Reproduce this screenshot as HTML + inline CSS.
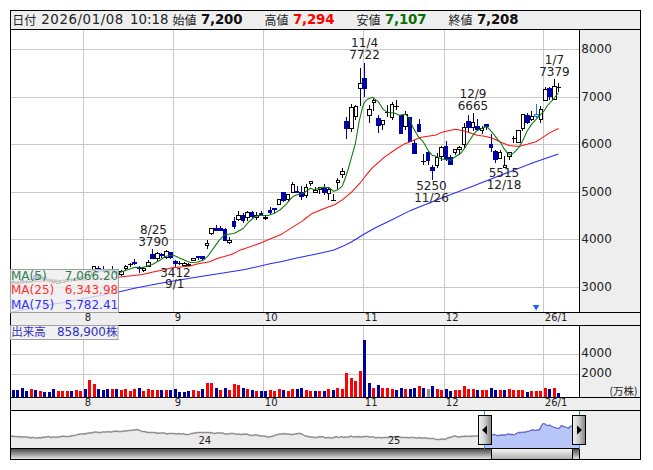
<!DOCTYPE html>
<html lang="ja"><head><meta charset="utf-8"><title>Chart</title>
<style>html,body{margin:0;padding:0;background:#fff;overflow:hidden}svg{display:block}text{font-family:'DejaVu Sans','Liberation Sans','Noto Sans CJK JP',sans-serif} .j{font-family:'Noto Sans CJK JP','DejaVu Sans','Liberation Sans',sans-serif}</style></head><body>
<svg width="653" height="470" viewBox="0 0 653 470">
<defs>
<linearGradient id="gTrack" x1="0" y1="0" x2="0" y2="1"><stop offset="0" stop-color="#4a4a4a"/><stop offset="1" stop-color="#e4e4e4"/></linearGradient>
<linearGradient id="gThumb" x1="0" y1="0" x2="0" y2="1"><stop offset="0" stop-color="#f4f4f4"/><stop offset="1" stop-color="#b0b0b0"/></linearGradient>
<linearGradient id="gHandle" x1="0" y1="0" x2="1" y2="0"><stop offset="0" stop-color="#f2f2f2"/><stop offset="0.45" stop-color="#d0d0d0"/><stop offset="1" stop-color="#808080"/></linearGradient>
</defs>
<rect x="0" y="0" width="653" height="470" fill="#fff"/>
<g shape-rendering="crispEdges">
<rect x="11" y="11" width="629" height="18" fill="#eeeeee"/>
<rect x="580" y="30" width="60" height="282" fill="#eeeeee"/>
<rect x="11" y="313" width="629" height="12" fill="#eeeeee"/>
<rect x="580" y="326" width="60" height="71" fill="#eeeeee"/>
<rect x="11" y="398" width="629" height="12" fill="#eeeeee"/>
<rect x="580" y="411" width="60" height="48" fill="#eeeeee"/>
<rect x="11" y="49" width="568" height="1" fill="#c8c8c8"/>
<rect x="11" y="97" width="568" height="1" fill="#c8c8c8"/>
<rect x="11" y="144" width="568" height="1" fill="#c8c8c8"/>
<rect x="11" y="192" width="568" height="1" fill="#c8c8c8"/>
<rect x="11" y="239" width="568" height="1" fill="#c8c8c8"/>
<rect x="11" y="287" width="568" height="1" fill="#c8c8c8"/>
<rect x="83" y="30" width="1" height="282" fill="#c8c8c8"/>
<rect x="83" y="326" width="1" height="71" fill="#c8c8c8"/>
<rect x="173" y="30" width="1" height="282" fill="#c8c8c8"/>
<rect x="173" y="326" width="1" height="71" fill="#c8c8c8"/>
<rect x="263" y="30" width="1" height="282" fill="#c8c8c8"/>
<rect x="263" y="326" width="1" height="71" fill="#c8c8c8"/>
<rect x="363" y="30" width="1" height="282" fill="#c8c8c8"/>
<rect x="363" y="326" width="1" height="71" fill="#c8c8c8"/>
<rect x="444" y="30" width="1" height="282" fill="#c8c8c8"/>
<rect x="444" y="326" width="1" height="71" fill="#c8c8c8"/>
<rect x="543" y="30" width="1" height="282" fill="#c8c8c8"/>
<rect x="543" y="326" width="1" height="71" fill="#c8c8c8"/>
<rect x="11" y="354" width="568" height="1" fill="#c8c8c8"/>
<rect x="11" y="374" width="568" height="1" fill="#c8c8c8"/>
</g>
<g shape-rendering="crispEdges">
<rect x="12" y="390" width="3" height="7" fill="#00009c"/>
<rect x="16" y="390" width="3" height="7" fill="#00009c"/>
<rect x="21" y="388" width="3" height="9" fill="#00009c"/>
<rect x="25" y="391" width="3" height="6" fill="#00009c"/>
<rect x="30" y="389" width="3" height="8" fill="#ff0000"/>
<rect x="34" y="390" width="3" height="7" fill="#00009c"/>
<rect x="39" y="391" width="3" height="6" fill="#ff0000"/>
<rect x="43" y="392" width="3" height="5" fill="#00009c"/>
<rect x="48" y="392" width="3" height="5" fill="#00009c"/>
<rect x="52" y="389" width="3" height="8" fill="#00009c"/>
<rect x="57" y="391" width="3" height="6" fill="#ff0000"/>
<rect x="61" y="391" width="3" height="6" fill="#ff0000"/>
<rect x="66" y="391" width="3" height="6" fill="#ff0000"/>
<rect x="70" y="391" width="3" height="6" fill="#00009c"/>
<rect x="75" y="390" width="3" height="7" fill="#ff0000"/>
<rect x="79" y="391" width="3" height="6" fill="#ff0000"/>
<rect x="84" y="389" width="3" height="8" fill="#00009c"/>
<rect x="88" y="380" width="3" height="17" fill="#ff0000"/>
<rect x="93" y="384" width="3" height="13" fill="#ff0000"/>
<rect x="97" y="389" width="3" height="8" fill="#00009c"/>
<rect x="102" y="390" width="3" height="7" fill="#00009c"/>
<rect x="106" y="389" width="3" height="8" fill="#00009c"/>
<rect x="111" y="389" width="3" height="8" fill="#ff0000"/>
<rect x="115" y="389" width="3" height="8" fill="#00009c"/>
<rect x="120" y="390" width="3" height="7" fill="#ff0000"/>
<rect x="124" y="389" width="3" height="8" fill="#ff0000"/>
<rect x="129" y="391" width="3" height="6" fill="#ff0000"/>
<rect x="133" y="389" width="3" height="8" fill="#ff0000"/>
<rect x="138" y="388" width="3" height="9" fill="#00009c"/>
<rect x="142" y="391" width="3" height="6" fill="#ff0000"/>
<rect x="147" y="389" width="3" height="8" fill="#ff0000"/>
<rect x="151" y="390" width="3" height="7" fill="#ff0000"/>
<rect x="156" y="390" width="3" height="7" fill="#ff0000"/>
<rect x="160" y="390" width="3" height="7" fill="#00009c"/>
<rect x="165" y="390" width="3" height="7" fill="#ff0000"/>
<rect x="169" y="390" width="3" height="7" fill="#00009c"/>
<rect x="174" y="389" width="3" height="8" fill="#00009c"/>
<rect x="178" y="392" width="3" height="5" fill="#00009c"/>
<rect x="183" y="392" width="3" height="5" fill="#00009c"/>
<rect x="187" y="391" width="3" height="6" fill="#00009c"/>
<rect x="192" y="390" width="3" height="7" fill="#ff0000"/>
<rect x="197" y="391" width="3" height="6" fill="#ff0000"/>
<rect x="201" y="389" width="3" height="8" fill="#00009c"/>
<rect x="206" y="383" width="3" height="14" fill="#ff0000"/>
<rect x="210" y="383" width="3" height="14" fill="#ff0000"/>
<rect x="215" y="388" width="3" height="9" fill="#00009c"/>
<rect x="219" y="390" width="3" height="7" fill="#ff0000"/>
<rect x="224" y="388" width="3" height="9" fill="#00009c"/>
<rect x="228" y="390" width="3" height="7" fill="#ff0000"/>
<rect x="233" y="384" width="3" height="13" fill="#ff0000"/>
<rect x="237" y="385" width="3" height="12" fill="#ff0000"/>
<rect x="242" y="388" width="3" height="9" fill="#00009c"/>
<rect x="246" y="389" width="3" height="8" fill="#ff0000"/>
<rect x="251" y="390" width="3" height="7" fill="#00009c"/>
<rect x="255" y="391" width="3" height="6" fill="#ff0000"/>
<rect x="260" y="391" width="3" height="6" fill="#00009c"/>
<rect x="264" y="391" width="3" height="6" fill="#00009c"/>
<rect x="269" y="390" width="3" height="7" fill="#ff0000"/>
<rect x="273" y="391" width="3" height="6" fill="#ff0000"/>
<rect x="278" y="389" width="3" height="8" fill="#ff0000"/>
<rect x="282" y="390" width="3" height="7" fill="#00009c"/>
<rect x="287" y="391" width="3" height="6" fill="#ff0000"/>
<rect x="291" y="389" width="3" height="8" fill="#ff0000"/>
<rect x="296" y="389" width="3" height="8" fill="#00009c"/>
<rect x="300" y="388" width="3" height="9" fill="#00009c"/>
<rect x="305" y="390" width="3" height="7" fill="#ff0000"/>
<rect x="309" y="391" width="3" height="6" fill="#ff0000"/>
<rect x="314" y="391" width="3" height="6" fill="#00009c"/>
<rect x="318" y="391" width="3" height="6" fill="#ff0000"/>
<rect x="323" y="391" width="3" height="6" fill="#00009c"/>
<rect x="327" y="389" width="3" height="8" fill="#ff0000"/>
<rect x="332" y="390" width="3" height="7" fill="#00009c"/>
<rect x="336" y="388" width="3" height="9" fill="#ff0000"/>
<rect x="341" y="389" width="3" height="8" fill="#ff0000"/>
<rect x="345" y="373" width="3" height="24" fill="#ff0000"/>
<rect x="350" y="378" width="3" height="19" fill="#ff0000"/>
<rect x="354" y="381" width="3" height="16" fill="#ff0000"/>
<rect x="359" y="371" width="3" height="26" fill="#ff0000"/>
<rect x="363" y="340" width="3" height="57" fill="#00009c"/>
<rect x="368" y="383" width="3" height="14" fill="#00009c"/>
<rect x="372" y="388" width="3" height="9" fill="#ff0000"/>
<rect x="377" y="385" width="3" height="12" fill="#00009c"/>
<rect x="381" y="388" width="3" height="9" fill="#ff0000"/>
<rect x="386" y="388" width="3" height="9" fill="#ff0000"/>
<rect x="391" y="389" width="3" height="8" fill="#ff0000"/>
<rect x="395" y="390" width="3" height="7" fill="#00009c"/>
<rect x="400" y="388" width="3" height="9" fill="#00009c"/>
<rect x="404" y="389" width="3" height="8" fill="#ff0000"/>
<rect x="409" y="389" width="3" height="8" fill="#00009c"/>
<rect x="413" y="388" width="3" height="9" fill="#00009c"/>
<rect x="418" y="386" width="3" height="11" fill="#ff0000"/>
<rect x="422" y="388" width="3" height="9" fill="#00009c"/>
<rect x="427" y="389" width="3" height="8" fill="#909090"/>
<rect x="431" y="386" width="3" height="11" fill="#00009c"/>
<rect x="436" y="389" width="3" height="8" fill="#ff0000"/>
<rect x="440" y="390" width="3" height="7" fill="#ff0000"/>
<rect x="445" y="389" width="3" height="8" fill="#00009c"/>
<rect x="449" y="391" width="3" height="6" fill="#00009c"/>
<rect x="454" y="390" width="3" height="7" fill="#ff0000"/>
<rect x="458" y="390" width="3" height="7" fill="#ff0000"/>
<rect x="463" y="386" width="3" height="11" fill="#ff0000"/>
<rect x="467" y="389" width="3" height="8" fill="#ff0000"/>
<rect x="472" y="389" width="3" height="8" fill="#ff0000"/>
<rect x="476" y="390" width="3" height="7" fill="#00009c"/>
<rect x="481" y="390" width="3" height="7" fill="#ff0000"/>
<rect x="485" y="390" width="3" height="7" fill="#ff0000"/>
<rect x="490" y="388" width="3" height="9" fill="#00009c"/>
<rect x="494" y="390" width="3" height="7" fill="#00009c"/>
<rect x="499" y="390" width="3" height="7" fill="#ff0000"/>
<rect x="503" y="390" width="3" height="7" fill="#00009c"/>
<rect x="508" y="389" width="3" height="8" fill="#ff0000"/>
<rect x="512" y="390" width="3" height="7" fill="#ff0000"/>
<rect x="517" y="390" width="3" height="7" fill="#ff0000"/>
<rect x="521" y="390" width="3" height="7" fill="#ff0000"/>
<rect x="526" y="392" width="3" height="5" fill="#00009c"/>
<rect x="530" y="391" width="3" height="6" fill="#ff0000"/>
<rect x="535" y="391" width="3" height="6" fill="#ff0000"/>
<rect x="539" y="391" width="3" height="6" fill="#ff0000"/>
<rect x="544" y="388" width="3" height="9" fill="#ff0000"/>
<rect x="548" y="389" width="3" height="8" fill="#00009c"/>
<rect x="553" y="388" width="3" height="9" fill="#ff0000"/>
<rect x="557" y="393" width="3" height="4" fill="#00009c"/>
</g>
<g shape-rendering="crispEdges">
<rect x="13" y="280" width="1" height="4" fill="#0000a8"/>
<rect x="11" y="281" width="4" height="2" fill="#0000a8"/>
<rect x="17" y="281" width="1" height="4" fill="#0000a8"/>
<rect x="15" y="282" width="5" height="2" fill="#0000a8"/>
<rect x="22" y="279" width="1" height="5" fill="#0000a8"/>
<rect x="20" y="280" width="4" height="3" fill="#0000a8"/>
<rect x="26" y="280" width="1" height="4" fill="#0000a8"/>
<rect x="24" y="281" width="5" height="2" fill="#0000a8"/>
<rect x="31" y="278" width="1" height="5" fill="#000"/>
<rect x="29" y="279" width="4" height="3" fill="#000"/>
<rect x="30" y="280" width="2" height="1" fill="#fff"/>
<rect x="35" y="274" width="1" height="7" fill="#0000a8"/>
<rect x="33" y="275" width="5" height="5" fill="#0000a8"/>
<rect x="40" y="274" width="1" height="6" fill="#000"/>
<rect x="38" y="275" width="4" height="4" fill="#000"/>
<rect x="39" y="276" width="2" height="2" fill="#fff"/>
<rect x="44" y="276" width="1" height="5" fill="#0000a8"/>
<rect x="42" y="277" width="5" height="3" fill="#0000a8"/>
<rect x="49" y="278" width="1" height="5" fill="#0000a8"/>
<rect x="47" y="279" width="4" height="2" fill="#0000a8"/>
<rect x="53" y="279" width="1" height="5" fill="#0000a8"/>
<rect x="51" y="280" width="5" height="3" fill="#0000a8"/>
<rect x="58" y="280" width="1" height="4" fill="#000"/>
<rect x="56" y="281" width="4" height="3" fill="#000"/>
<rect x="57" y="282" width="2" height="1" fill="#fff"/>
<rect x="62" y="279" width="1" height="4" fill="#000"/>
<rect x="60" y="280" width="5" height="3" fill="#000"/>
<rect x="61" y="281" width="3" height="1" fill="#fff"/>
<rect x="67" y="278" width="1" height="4" fill="#000"/>
<rect x="65" y="279" width="4" height="3" fill="#000"/>
<rect x="66" y="280" width="2" height="1" fill="#fff"/>
<rect x="71" y="278" width="1" height="4" fill="#0000a8"/>
<rect x="69" y="279" width="5" height="2" fill="#0000a8"/>
<rect x="76" y="277" width="1" height="4" fill="#000"/>
<rect x="74" y="278" width="4" height="3" fill="#000"/>
<rect x="75" y="279" width="2" height="1" fill="#fff"/>
<rect x="80" y="276" width="1" height="4" fill="#000"/>
<rect x="79" y="277" width="4" height="3" fill="#000"/>
<rect x="80" y="278" width="2" height="1" fill="#fff"/>
<rect x="85" y="276" width="1" height="5" fill="#0000a8"/>
<rect x="83" y="277" width="4" height="2" fill="#0000a8"/>
<rect x="89" y="270" width="1" height="7" fill="#000"/>
<rect x="88" y="271" width="4" height="5" fill="#000"/>
<rect x="89" y="272" width="2" height="3" fill="#fff"/>
<rect x="94" y="266" width="1" height="6" fill="#000"/>
<rect x="92" y="266" width="4" height="5" fill="#000"/>
<rect x="93" y="267" width="2" height="3" fill="#fff"/>
<rect x="98" y="266" width="1" height="5" fill="#0000a8"/>
<rect x="96" y="268" width="5" height="2" fill="#0000a8"/>
<rect x="103" y="266" width="1" height="6" fill="#0000a8"/>
<rect x="101" y="269" width="4" height="2" fill="#0000a8"/>
<rect x="107" y="269" width="1" height="4" fill="#0000a8"/>
<rect x="105" y="270" width="5" height="2" fill="#0000a8"/>
<rect x="112" y="266" width="1" height="6" fill="#0000a8"/>
<rect x="110" y="269" width="5" height="2" fill="#0000a8"/>
<rect x="116" y="270" width="1" height="5" fill="#0000a8"/>
<rect x="114" y="271" width="5" height="3" fill="#0000a8"/>
<rect x="121" y="270" width="1" height="6" fill="#000"/>
<rect x="119" y="271" width="5" height="4" fill="#000"/>
<rect x="120" y="272" width="3" height="2" fill="#fff"/>
<rect x="125" y="265" width="1" height="5" fill="#000"/>
<rect x="124" y="266" width="4" height="3" fill="#000"/>
<rect x="125" y="267" width="2" height="1" fill="#fff"/>
<rect x="130" y="263" width="1" height="4" fill="#000"/>
<rect x="128" y="264" width="5" height="1" fill="#000"/>
<rect x="134" y="259" width="1" height="6" fill="#0000a8"/>
<rect x="132" y="262" width="5" height="2" fill="#0000a8"/>
<rect x="139" y="266" width="1" height="7" fill="#0000a8"/>
<rect x="137" y="267" width="5" height="2" fill="#0000a8"/>
<rect x="143" y="267" width="1" height="5" fill="#000"/>
<rect x="142" y="268" width="4" height="3" fill="#000"/>
<rect x="143" y="269" width="2" height="1" fill="#fff"/>
<rect x="148" y="260" width="1" height="7" fill="#000"/>
<rect x="146" y="262" width="5" height="5" fill="#000"/>
<rect x="147" y="263" width="3" height="3" fill="#fff"/>
<rect x="152" y="249" width="1" height="10" fill="#0000a8"/>
<rect x="150" y="254" width="5" height="5" fill="#0000a8"/>
<rect x="157" y="252" width="1" height="9" fill="#000"/>
<rect x="155" y="253" width="5" height="6" fill="#000"/>
<rect x="156" y="254" width="3" height="4" fill="#fff"/>
<rect x="161" y="253" width="1" height="5" fill="#0000a8"/>
<rect x="159" y="254" width="5" height="2" fill="#0000a8"/>
<rect x="166" y="250" width="1" height="9" fill="#000"/>
<rect x="164" y="251" width="5" height="7" fill="#000"/>
<rect x="165" y="252" width="3" height="5" fill="#fff"/>
<rect x="170" y="252" width="1" height="7" fill="#0000a8"/>
<rect x="168" y="252" width="5" height="6" fill="#0000a8"/>
<rect x="175" y="260" width="1" height="7" fill="#0000a8"/>
<rect x="173" y="261" width="5" height="3" fill="#0000a8"/>
<rect x="179" y="261" width="1" height="4" fill="#000"/>
<rect x="178" y="263" width="4" height="1" fill="#000"/>
<rect x="184" y="262" width="1" height="3" fill="#000"/>
<rect x="182" y="263" width="5" height="3" fill="#000"/>
<rect x="183" y="264" width="3" height="1" fill="#fff"/>
<rect x="188" y="263" width="1" height="3" fill="#000"/>
<rect x="187" y="264" width="4" height="2" fill="#000"/>
<rect x="193" y="258" width="1" height="2" fill="#000"/>
<rect x="191" y="258" width="5" height="3" fill="#000"/>
<rect x="192" y="259" width="3" height="1" fill="#fff"/>
<rect x="198" y="256" width="1" height="4" fill="#0000a8"/>
<rect x="196" y="256" width="4" height="2" fill="#0000a8"/>
<rect x="202" y="256" width="1" height="5" fill="#0000a8"/>
<rect x="200" y="256" width="5" height="3" fill="#0000a8"/>
<rect x="207" y="240" width="1" height="9" fill="#000"/>
<rect x="205" y="243" width="4" height="3" fill="#000"/>
<rect x="206" y="244" width="2" height="1" fill="#fff"/>
<rect x="211" y="228" width="1" height="7" fill="#000"/>
<rect x="209" y="228" width="5" height="6" fill="#000"/>
<rect x="210" y="229" width="3" height="4" fill="#fff"/>
<rect x="216" y="225" width="1" height="6" fill="#0000a8"/>
<rect x="214" y="228" width="4" height="3" fill="#0000a8"/>
<rect x="220" y="226" width="1" height="5" fill="#0000a8"/>
<rect x="218" y="228" width="5" height="3" fill="#0000a8"/>
<rect x="225" y="228" width="1" height="13" fill="#0000a8"/>
<rect x="223" y="229" width="4" height="12" fill="#0000a8"/>
<rect x="229" y="237" width="1" height="7" fill="#000"/>
<rect x="227" y="240" width="5" height="3" fill="#000"/>
<rect x="228" y="241" width="3" height="1" fill="#fff"/>
<rect x="234" y="217" width="1" height="12" fill="#0000a8"/>
<rect x="232" y="221" width="4" height="6" fill="#0000a8"/>
<rect x="238" y="211" width="1" height="10" fill="#000"/>
<rect x="236" y="215" width="5" height="5" fill="#000"/>
<rect x="237" y="216" width="3" height="3" fill="#fff"/>
<rect x="243" y="213" width="1" height="10" fill="#0000a8"/>
<rect x="241" y="215" width="4" height="6" fill="#0000a8"/>
<rect x="247" y="211" width="1" height="10" fill="#000"/>
<rect x="245" y="212" width="5" height="6" fill="#000"/>
<rect x="246" y="213" width="3" height="4" fill="#fff"/>
<rect x="252" y="211" width="1" height="7" fill="#0000a8"/>
<rect x="250" y="212" width="4" height="5" fill="#0000a8"/>
<rect x="256" y="212" width="1" height="8" fill="#000"/>
<rect x="254" y="215" width="5" height="3" fill="#000"/>
<rect x="255" y="216" width="3" height="1" fill="#fff"/>
<rect x="261" y="211" width="1" height="5" fill="#0000a8"/>
<rect x="259" y="213" width="4" height="3" fill="#0000a8"/>
<rect x="265" y="216" width="1" height="4" fill="#000"/>
<rect x="263" y="217" width="5" height="2" fill="#000"/>
<rect x="270" y="207" width="1" height="8" fill="#0000a8"/>
<rect x="268" y="210" width="4" height="3" fill="#0000a8"/>
<rect x="274" y="208" width="1" height="5" fill="#0000a8"/>
<rect x="272" y="208" width="5" height="2" fill="#0000a8"/>
<rect x="279" y="199" width="1" height="6" fill="#000"/>
<rect x="277" y="199" width="4" height="6" fill="#000"/>
<rect x="278" y="200" width="2" height="4" fill="#fff"/>
<rect x="283" y="192" width="1" height="10" fill="#0000a8"/>
<rect x="281" y="192" width="5" height="9" fill="#0000a8"/>
<rect x="288" y="194" width="1" height="8" fill="#000"/>
<rect x="286" y="194" width="4" height="6" fill="#000"/>
<rect x="287" y="195" width="2" height="4" fill="#fff"/>
<rect x="292" y="182" width="1" height="11" fill="#000"/>
<rect x="291" y="184" width="4" height="9" fill="#000"/>
<rect x="292" y="185" width="2" height="7" fill="#fff"/>
<rect x="297" y="186" width="1" height="7" fill="#0000a8"/>
<rect x="295" y="191" width="4" height="2" fill="#0000a8"/>
<rect x="301" y="186" width="1" height="14" fill="#0000a8"/>
<rect x="299" y="192" width="5" height="5" fill="#0000a8"/>
<rect x="306" y="184" width="1" height="14" fill="#000"/>
<rect x="304" y="187" width="4" height="9" fill="#000"/>
<rect x="305" y="188" width="2" height="7" fill="#fff"/>
<rect x="310" y="181" width="1" height="5" fill="#000"/>
<rect x="309" y="181" width="4" height="3" fill="#000"/>
<rect x="310" y="182" width="2" height="1" fill="#fff"/>
<rect x="315" y="187" width="1" height="5" fill="#000"/>
<rect x="313" y="190" width="5" height="3" fill="#000"/>
<rect x="314" y="191" width="3" height="1" fill="#fff"/>
<rect x="319" y="187" width="1" height="7" fill="#000"/>
<rect x="318" y="187" width="4" height="3" fill="#000"/>
<rect x="319" y="188" width="2" height="1" fill="#fff"/>
<rect x="324" y="184" width="1" height="11" fill="#0000a8"/>
<rect x="322" y="188" width="5" height="5" fill="#0000a8"/>
<rect x="328" y="187" width="1" height="13" fill="#000"/>
<rect x="327" y="189" width="4" height="5" fill="#000"/>
<rect x="328" y="190" width="2" height="3" fill="#fff"/>
<rect x="333" y="194" width="1" height="7" fill="#000"/>
<rect x="331" y="200" width="5" height="1" fill="#000"/>
<rect x="337" y="178" width="1" height="11" fill="#000"/>
<rect x="336" y="180" width="4" height="3" fill="#000"/>
<rect x="337" y="181" width="2" height="1" fill="#fff"/>
<rect x="342" y="168" width="1" height="10" fill="#000"/>
<rect x="340" y="171" width="5" height="4" fill="#000"/>
<rect x="341" y="172" width="3" height="2" fill="#fff"/>
<rect x="346" y="117" width="1" height="22" fill="#0000a8"/>
<rect x="344" y="121" width="5" height="8" fill="#0000a8"/>
<rect x="351" y="104" width="1" height="28" fill="#000"/>
<rect x="349" y="107" width="5" height="22" fill="#000"/>
<rect x="350" y="108" width="3" height="20" fill="#fff"/>
<rect x="355" y="105" width="1" height="15" fill="#000"/>
<rect x="354" y="106" width="4" height="11" fill="#000"/>
<rect x="355" y="107" width="2" height="9" fill="#fff"/>
<rect x="360" y="68" width="1" height="38" fill="#000"/>
<rect x="358" y="83" width="5" height="6" fill="#000"/>
<rect x="359" y="84" width="3" height="4" fill="#fff"/>
<rect x="364" y="63" width="1" height="34" fill="#0000a8"/>
<rect x="362" y="78" width="5" height="11" fill="#0000a8"/>
<rect x="369" y="105" width="1" height="18" fill="#000"/>
<rect x="367" y="109" width="5" height="7" fill="#000"/>
<rect x="368" y="110" width="3" height="5" fill="#fff"/>
<rect x="373" y="98" width="1" height="13" fill="#000"/>
<rect x="372" y="100" width="4" height="3" fill="#000"/>
<rect x="373" y="101" width="2" height="1" fill="#fff"/>
<rect x="378" y="115" width="1" height="18" fill="#0000a8"/>
<rect x="376" y="118" width="5" height="8" fill="#0000a8"/>
<rect x="382" y="120" width="1" height="10" fill="#000"/>
<rect x="381" y="120" width="4" height="5" fill="#000"/>
<rect x="382" y="121" width="2" height="3" fill="#fff"/>
<rect x="387" y="105" width="1" height="12" fill="#000"/>
<rect x="385" y="112" width="5" height="1" fill="#000"/>
<rect x="392" y="102" width="1" height="18" fill="#000"/>
<rect x="390" y="104" width="4" height="14" fill="#000"/>
<rect x="391" y="105" width="2" height="12" fill="#fff"/>
<rect x="396" y="100" width="1" height="10" fill="#000"/>
<rect x="394" y="106" width="5" height="1" fill="#000"/>
<rect x="401" y="115" width="1" height="19" fill="#0000a8"/>
<rect x="399" y="115" width="4" height="19" fill="#0000a8"/>
<rect x="405" y="111" width="1" height="19" fill="#000"/>
<rect x="403" y="114" width="5" height="13" fill="#000"/>
<rect x="404" y="115" width="3" height="11" fill="#fff"/>
<rect x="410" y="117" width="1" height="25" fill="#0000a8"/>
<rect x="408" y="117" width="4" height="25" fill="#0000a8"/>
<rect x="414" y="140" width="1" height="14" fill="#0000a8"/>
<rect x="412" y="143" width="5" height="11" fill="#0000a8"/>
<rect x="419" y="119" width="1" height="13" fill="#0000a8"/>
<rect x="417" y="124" width="4" height="8" fill="#0000a8"/>
<rect x="423" y="154" width="1" height="11" fill="#000"/>
<rect x="421" y="161" width="5" height="1" fill="#000"/>
<rect x="428" y="151" width="1" height="14" fill="#0000a8"/>
<rect x="426" y="152" width="4" height="9" fill="#0000a8"/>
<rect x="432" y="165" width="1" height="15" fill="#0000a8"/>
<rect x="430" y="167" width="5" height="4" fill="#0000a8"/>
<rect x="437" y="153" width="1" height="15" fill="#000"/>
<rect x="435" y="157" width="4" height="9" fill="#000"/>
<rect x="436" y="158" width="2" height="7" fill="#fff"/>
<rect x="441" y="146" width="1" height="15" fill="#000"/>
<rect x="439" y="147" width="5" height="10" fill="#000"/>
<rect x="440" y="148" width="3" height="8" fill="#fff"/>
<rect x="446" y="141" width="1" height="20" fill="#0000a8"/>
<rect x="444" y="146" width="4" height="14" fill="#0000a8"/>
<rect x="450" y="155" width="1" height="10" fill="#0000a8"/>
<rect x="448" y="157" width="5" height="8" fill="#0000a8"/>
<rect x="455" y="149" width="1" height="6" fill="#000"/>
<rect x="453" y="149" width="4" height="4" fill="#000"/>
<rect x="454" y="150" width="2" height="2" fill="#fff"/>
<rect x="459" y="146" width="1" height="9" fill="#000"/>
<rect x="457" y="147" width="5" height="3" fill="#000"/>
<rect x="458" y="148" width="3" height="1" fill="#fff"/>
<rect x="464" y="123" width="1" height="26" fill="#000"/>
<rect x="462" y="127" width="4" height="18" fill="#000"/>
<rect x="463" y="128" width="2" height="16" fill="#fff"/>
<rect x="468" y="115" width="1" height="18" fill="#0000a8"/>
<rect x="466" y="121" width="5" height="7" fill="#0000a8"/>
<rect x="473" y="113" width="1" height="18" fill="#000"/>
<rect x="471" y="122" width="4" height="6" fill="#000"/>
<rect x="472" y="123" width="2" height="4" fill="#fff"/>
<rect x="477" y="119" width="1" height="11" fill="#0000a8"/>
<rect x="475" y="126" width="5" height="4" fill="#0000a8"/>
<rect x="482" y="126" width="1" height="8" fill="#000"/>
<rect x="480" y="128" width="4" height="3" fill="#000"/>
<rect x="481" y="129" width="2" height="1" fill="#fff"/>
<rect x="486" y="124" width="1" height="6" fill="#0000a8"/>
<rect x="484" y="124" width="5" height="3" fill="#0000a8"/>
<rect x="491" y="134" width="1" height="18" fill="#0000a8"/>
<rect x="489" y="144" width="4" height="4" fill="#0000a8"/>
<rect x="495" y="150" width="1" height="13" fill="#0000a8"/>
<rect x="493" y="151" width="5" height="9" fill="#0000a8"/>
<rect x="500" y="150" width="1" height="9" fill="#000"/>
<rect x="498" y="152" width="4" height="7" fill="#000"/>
<rect x="499" y="153" width="2" height="5" fill="#fff"/>
<rect x="504" y="156" width="1" height="12" fill="#000"/>
<rect x="503" y="165" width="4" height="3" fill="#000"/>
<rect x="504" y="166" width="2" height="1" fill="#fff"/>
<rect x="509" y="152" width="1" height="8" fill="#000"/>
<rect x="507" y="152" width="5" height="5" fill="#000"/>
<rect x="508" y="153" width="3" height="3" fill="#fff"/>
<rect x="513" y="136" width="1" height="7" fill="#000"/>
<rect x="512" y="138" width="4" height="1" fill="#000"/>
<rect x="518" y="130" width="1" height="13" fill="#000"/>
<rect x="516" y="130" width="5" height="13" fill="#000"/>
<rect x="517" y="131" width="3" height="11" fill="#fff"/>
<rect x="522" y="114" width="1" height="17" fill="#000"/>
<rect x="521" y="114" width="4" height="15" fill="#000"/>
<rect x="522" y="115" width="2" height="13" fill="#fff"/>
<rect x="527" y="113" width="1" height="11" fill="#0000a8"/>
<rect x="525" y="115" width="5" height="8" fill="#0000a8"/>
<rect x="531" y="111" width="1" height="10" fill="#000"/>
<rect x="530" y="116" width="4" height="4" fill="#000"/>
<rect x="531" y="117" width="2" height="2" fill="#fff"/>
<rect x="536" y="104" width="1" height="14" fill="#1e78ff"/>
<rect x="534" y="114" width="5" height="3" fill="#1e78ff"/>
<rect x="535" y="115" width="3" height="1" fill="#fff"/>
<rect x="540" y="106" width="1" height="17" fill="#000"/>
<rect x="539" y="109" width="4" height="11" fill="#000"/>
<rect x="540" y="110" width="2" height="9" fill="#fff"/>
<rect x="545" y="87" width="1" height="14" fill="#000"/>
<rect x="543" y="89" width="5" height="12" fill="#000"/>
<rect x="544" y="90" width="3" height="10" fill="#fff"/>
<rect x="549" y="87" width="1" height="13" fill="#0000a8"/>
<rect x="547" y="88" width="5" height="9" fill="#0000a8"/>
<rect x="554" y="79" width="1" height="21" fill="#000"/>
<rect x="552" y="86" width="5" height="14" fill="#000"/>
<rect x="553" y="87" width="3" height="12" fill="#fff"/>
<rect x="558" y="83" width="1" height="9" fill="#000"/>
<rect x="557" y="87" width="4" height="1" fill="#000"/>
</g>
<polyline points="11.7,312.0 63.0,302.4 118.6,291.9 134.5,288.2 159.0,283.6 173.7,280.9 195.8,277.2 220.0,273.5 244.8,269.6 270.0,263.8 282.0,261.4 294.5,258.5 319.0,253.4 334.0,250.0 342.0,246.6 350.9,242.3 363.0,234.7 375.4,227.8 392.5,219.5 410.6,210.4 441.0,198.2 472.0,186.5 502.5,174.6 533.0,162.7 558.4,154.0" fill="none" stroke="#2828ff" stroke-width="1.05" stroke-linejoin="round"/>
<polyline points="11.0,284.0 40.0,281.3 70.0,280.5 90.0,279.5 118.0,277.2 142.6,274.4 153.0,272.0 161.8,270.2 172.0,267.8 190.4,266.0 196.0,264.3 209.6,261.7 217.2,258.5 222.5,257.1 232.0,254.3 239.0,250.6 260.0,243.3 282.0,233.9 303.0,220.6 306.0,218.0 312.0,213.6 324.4,208.6 335.0,204.5 342.3,199.9 351.5,192.1 360.0,183.2 365.3,176.2 372.0,168.2 384.4,157.1 396.8,148.5 404.2,144.1 409.0,142.3 413.0,140.4 418.4,138.2 421.4,137.2 436.0,135.0 440.0,133.1 445.0,131.6 455.5,129.3 464.3,131.1 473.5,133.9 477.2,135.3 484.5,136.2 492.0,138.0 498.0,140.8 501.0,142.2 509.0,145.5 519.0,146.4 528.0,144.1 536.0,141.8 541.0,138.6 549.0,133.1 558.5,128.5" fill="none" stroke="#ff1010" stroke-width="1.05" stroke-linejoin="round"/>
<polyline points="13.0,282.0 30.0,282.0 40.0,279.0 50.0,279.5 65.0,281.0 85.0,279.0 95.0,273.0 105.0,270.0 112.0,270.5 119.7,272.5 127.0,270.0 135.0,267.3 142.6,267.5 152.3,264.5 159.1,260.7 165.3,256.5 170.6,255.3 173.5,255.3 182.9,259.5 190.4,262.4 196.8,262.2 203.3,260.3 207.8,256.2 213.4,248.4 218.9,240.6 224.4,235.0 228.0,234.3 234.0,233.5 243.2,228.5 248.7,222.0 255.1,216.5 260.0,215.4 268.0,215.4 274.0,213.6 280.5,209.5 286.0,204.4 290.6,198.9 294.3,195.7 299.0,194.3 303.5,193.3 308.0,190.0 310.5,188.3 314.0,189.8 318.5,188.4 323.0,187.3 329.0,187.5 333.5,191.4 337.7,189.8 342.3,186.1 345.0,178.8 348.0,170.0 350.5,160.8 355.4,143.5 359.0,122.0 362.5,107.4 364.5,102.3 367.0,99.5 372.5,97.3 378.0,101.3 383.4,109.6 387.6,112.4 394.5,113.1 399.3,115.2 405.7,114.3 409.4,118.4 413.0,127.6 418.6,137.2 423.0,141.4 428.5,151.1 432.2,155.2 437.0,156.6 441.4,158.9 445.0,159.4 450.5,160.3 454.2,157.5 461.0,153.0 464.3,148.6 469.0,141.2 473.5,134.4 477.0,130.7 481.8,128.4 486.4,126.5 489.6,129.3 493.0,133.4 498.0,139.9 501.0,143.1 504.0,148.7 507.8,153.3 510.6,155.1 514.3,152.4 519.0,147.3 522.5,141.3 527.0,131.2 531.5,124.4 537.0,118.4 544.0,111.0 547.0,106.0 553.0,99.6 558.3,92.7" fill="none" stroke="#0a7a0a" stroke-width="1.05" stroke-linejoin="round"/>
<path d="M532.8 305 L539.3 305 L536.1 310.6 Z" fill="#1464ff"/>
<polygon points="11.0,448 11.0,436.5 12.5,436.0 14.0,436.5 15.5,436.5 17.0,436.5 18.5,437.0 20.0,436.5 21.5,437.0 23.0,437.0 24.5,437.0 26.0,437.0 27.5,437.0 29.0,437.5 30.5,438.0 32.0,437.5 33.5,437.5 35.0,438.0 36.5,438.0 38.0,438.0 39.5,437.5 41.0,438.0 42.5,437.0 44.0,437.5 45.5,437.0 47.0,437.0 48.5,436.5 50.0,437.0 51.5,437.5 53.0,437.0 54.5,437.0 56.0,437.5 57.5,437.0 59.0,437.0 60.5,436.5 62.0,436.5 63.5,436.0 65.0,436.5 66.5,436.5 68.0,436.5 69.5,436.5 71.0,436.0 72.5,435.5 74.0,435.5 75.5,435.5 77.0,434.5 78.5,434.5 80.0,434.0 81.5,434.0 83.0,434.0 84.5,433.5 86.0,434.0 87.5,433.0 89.0,433.0 90.5,433.0 92.0,432.5 93.5,432.5 95.0,432.0 96.5,432.0 98.0,432.5 99.5,432.5 101.0,432.5 102.5,432.0 104.0,432.0 105.5,432.0 107.0,432.0 108.5,431.5 110.0,432.0 111.5,432.0 113.0,431.5 114.5,431.5 116.0,431.0 117.5,431.5 119.0,431.5 120.5,431.5 122.0,431.5 123.5,431.0 125.0,431.0 126.5,431.0 128.0,430.5 129.5,430.5 131.0,430.5 132.5,430.0 134.0,430.0 135.5,430.0 137.0,429.5 138.5,430.0 140.0,430.5 141.5,431.5 143.0,431.5 144.5,431.5 146.0,432.0 147.5,432.5 149.0,432.5 150.5,432.5 152.0,432.5 153.5,432.5 155.0,432.5 156.5,433.0 158.0,433.5 159.5,433.0 161.0,433.0 162.5,433.0 164.0,433.0 165.5,433.5 167.0,434.0 168.5,433.5 170.0,433.5 171.5,433.5 173.0,433.5 174.5,433.5 176.0,434.0 177.5,434.0 179.0,433.5 180.5,434.0 182.0,434.0 183.5,433.5 185.0,434.5 186.5,434.5 188.0,434.5 189.5,434.5 191.0,433.5 192.5,433.5 194.0,433.0 195.5,433.0 197.0,432.5 198.5,432.5 200.0,432.5 201.5,432.5 203.0,432.5 204.5,432.5 206.0,432.5 207.5,432.5 209.0,432.5 210.5,433.0 212.0,432.5 213.5,433.5 215.0,433.5 216.5,433.0 218.0,433.0 219.5,433.0 221.0,433.0 222.5,433.0 224.0,433.5 225.5,434.0 227.0,434.0 228.5,434.0 230.0,433.5 231.5,433.5 233.0,433.5 234.5,433.5 236.0,434.5 237.5,434.0 239.0,434.0 240.5,434.5 242.0,434.5 243.5,434.0 245.0,434.5 246.5,434.0 248.0,434.5 249.5,435.0 251.0,435.5 252.5,435.5 254.0,435.0 255.5,435.0 257.0,435.0 258.5,435.5 260.0,436.0 261.5,436.0 263.0,436.0 264.5,436.0 266.0,436.5 267.5,437.0 269.0,437.0 270.5,436.5 272.0,436.5 273.5,436.0 275.0,435.0 276.5,435.0 278.0,434.5 279.5,434.0 281.0,434.0 282.5,434.0 284.0,433.5 285.5,434.0 287.0,434.0 288.5,434.0 290.0,434.5 291.5,434.5 293.0,434.5 294.5,434.0 296.0,434.0 297.5,433.5 299.0,433.5 300.5,433.5 302.0,434.0 303.5,435.0 305.0,436.0 306.5,436.0 308.0,436.5 309.5,437.0 311.0,437.0 312.5,437.0 314.0,437.5 315.5,437.5 317.0,437.5 318.5,437.0 320.0,436.5 321.5,437.0 323.0,436.5 324.5,437.5 326.0,438.0 327.5,437.5 329.0,437.5 330.5,438.0 332.0,438.0 333.5,437.5 335.0,437.0 336.5,436.5 338.0,437.5 339.5,437.5 341.0,436.5 342.5,437.0 344.0,437.5 345.5,437.0 347.0,437.0 348.5,437.0 350.0,436.5 351.5,436.0 353.0,437.0 354.5,437.0 356.0,436.5 357.5,437.0 359.0,436.5 360.5,437.0 362.0,437.0 363.5,436.5 365.0,436.5 366.5,436.5 368.0,436.5 369.5,437.0 371.0,437.0 372.5,437.0 374.0,437.0 375.5,438.0 377.0,437.5 378.5,437.5 380.0,437.5 381.5,438.0 383.0,437.5 384.5,437.5 386.0,437.5 387.5,437.5 389.0,437.5 390.5,436.5 392.0,437.0 393.5,437.0 395.0,436.5 396.5,437.5 398.0,437.0 399.5,437.0 401.0,437.5 402.5,437.5 404.0,437.5 405.5,437.5 407.0,437.5 408.5,438.0 410.0,437.5 411.5,437.5 413.0,437.5 414.5,437.5 416.0,438.0 417.5,438.0 419.0,437.5 420.5,438.0 422.0,438.0 423.5,438.0 425.0,438.0 426.5,438.0 428.0,438.5 429.5,438.5 431.0,438.5 432.5,438.5 434.0,438.5 435.5,439.5 437.0,439.5 438.5,439.5 440.0,439.5 441.5,439.0 443.0,439.0 444.5,439.5 446.0,439.0 447.5,438.0 449.0,437.5 450.5,437.5 452.0,437.0 453.5,436.0 455.0,436.0 456.5,436.5 458.0,437.0 459.5,437.0 461.0,436.5 462.5,436.5 464.0,436.5 465.5,436.0 467.0,436.5 468.5,436.5 470.0,436.0 471.5,436.5 473.0,436.0 474.5,436.0 476.0,436.0 477.5,436.0 479.0,435.5 480.5,435.5 482.0,435.5 483.5,435.5 485.0,435.0 485.0,435.6 485.0,448" fill="#ebebeb"/>
<polyline points="11.0,436.5 12.5,436.0 14.0,436.5 15.5,436.5 17.0,436.5 18.5,437.0 20.0,436.5 21.5,437.0 23.0,437.0 24.5,437.0 26.0,437.0 27.5,437.0 29.0,437.5 30.5,438.0 32.0,437.5 33.5,437.5 35.0,438.0 36.5,438.0 38.0,438.0 39.5,437.5 41.0,438.0 42.5,437.0 44.0,437.5 45.5,437.0 47.0,437.0 48.5,436.5 50.0,437.0 51.5,437.5 53.0,437.0 54.5,437.0 56.0,437.5 57.5,437.0 59.0,437.0 60.5,436.5 62.0,436.5 63.5,436.0 65.0,436.5 66.5,436.5 68.0,436.5 69.5,436.5 71.0,436.0 72.5,435.5 74.0,435.5 75.5,435.5 77.0,434.5 78.5,434.5 80.0,434.0 81.5,434.0 83.0,434.0 84.5,433.5 86.0,434.0 87.5,433.0 89.0,433.0 90.5,433.0 92.0,432.5 93.5,432.5 95.0,432.0 96.5,432.0 98.0,432.5 99.5,432.5 101.0,432.5 102.5,432.0 104.0,432.0 105.5,432.0 107.0,432.0 108.5,431.5 110.0,432.0 111.5,432.0 113.0,431.5 114.5,431.5 116.0,431.0 117.5,431.5 119.0,431.5 120.5,431.5 122.0,431.5 123.5,431.0 125.0,431.0 126.5,431.0 128.0,430.5 129.5,430.5 131.0,430.5 132.5,430.0 134.0,430.0 135.5,430.0 137.0,429.5 138.5,430.0 140.0,430.5 141.5,431.5 143.0,431.5 144.5,431.5 146.0,432.0 147.5,432.5 149.0,432.5 150.5,432.5 152.0,432.5 153.5,432.5 155.0,432.5 156.5,433.0 158.0,433.5 159.5,433.0 161.0,433.0 162.5,433.0 164.0,433.0 165.5,433.5 167.0,434.0 168.5,433.5 170.0,433.5 171.5,433.5 173.0,433.5 174.5,433.5 176.0,434.0 177.5,434.0 179.0,433.5 180.5,434.0 182.0,434.0 183.5,433.5 185.0,434.5 186.5,434.5 188.0,434.5 189.5,434.5 191.0,433.5 192.5,433.5 194.0,433.0 195.5,433.0 197.0,432.5 198.5,432.5 200.0,432.5 201.5,432.5 203.0,432.5 204.5,432.5 206.0,432.5 207.5,432.5 209.0,432.5 210.5,433.0 212.0,432.5 213.5,433.5 215.0,433.5 216.5,433.0 218.0,433.0 219.5,433.0 221.0,433.0 222.5,433.0 224.0,433.5 225.5,434.0 227.0,434.0 228.5,434.0 230.0,433.5 231.5,433.5 233.0,433.5 234.5,433.5 236.0,434.5 237.5,434.0 239.0,434.0 240.5,434.5 242.0,434.5 243.5,434.0 245.0,434.5 246.5,434.0 248.0,434.5 249.5,435.0 251.0,435.5 252.5,435.5 254.0,435.0 255.5,435.0 257.0,435.0 258.5,435.5 260.0,436.0 261.5,436.0 263.0,436.0 264.5,436.0 266.0,436.5 267.5,437.0 269.0,437.0 270.5,436.5 272.0,436.5 273.5,436.0 275.0,435.0 276.5,435.0 278.0,434.5 279.5,434.0 281.0,434.0 282.5,434.0 284.0,433.5 285.5,434.0 287.0,434.0 288.5,434.0 290.0,434.5 291.5,434.5 293.0,434.5 294.5,434.0 296.0,434.0 297.5,433.5 299.0,433.5 300.5,433.5 302.0,434.0 303.5,435.0 305.0,436.0 306.5,436.0 308.0,436.5 309.5,437.0 311.0,437.0 312.5,437.0 314.0,437.5 315.5,437.5 317.0,437.5 318.5,437.0 320.0,436.5 321.5,437.0 323.0,436.5 324.5,437.5 326.0,438.0 327.5,437.5 329.0,437.5 330.5,438.0 332.0,438.0 333.5,437.5 335.0,437.0 336.5,436.5 338.0,437.5 339.5,437.5 341.0,436.5 342.5,437.0 344.0,437.5 345.5,437.0 347.0,437.0 348.5,437.0 350.0,436.5 351.5,436.0 353.0,437.0 354.5,437.0 356.0,436.5 357.5,437.0 359.0,436.5 360.5,437.0 362.0,437.0 363.5,436.5 365.0,436.5 366.5,436.5 368.0,436.5 369.5,437.0 371.0,437.0 372.5,437.0 374.0,437.0 375.5,438.0 377.0,437.5 378.5,437.5 380.0,437.5 381.5,438.0 383.0,437.5 384.5,437.5 386.0,437.5 387.5,437.5 389.0,437.5 390.5,436.5 392.0,437.0 393.5,437.0 395.0,436.5 396.5,437.5 398.0,437.0 399.5,437.0 401.0,437.5 402.5,437.5 404.0,437.5 405.5,437.5 407.0,437.5 408.5,438.0 410.0,437.5 411.5,437.5 413.0,437.5 414.5,437.5 416.0,438.0 417.5,438.0 419.0,437.5 420.5,438.0 422.0,438.0 423.5,438.0 425.0,438.0 426.5,438.0 428.0,438.5 429.5,438.5 431.0,438.5 432.5,438.5 434.0,438.5 435.5,439.5 437.0,439.5 438.5,439.5 440.0,439.5 441.5,439.0 443.0,439.0 444.5,439.5 446.0,439.0 447.5,438.0 449.0,437.5 450.5,437.5 452.0,437.0 453.5,436.0 455.0,436.0 456.5,436.5 458.0,437.0 459.5,437.0 461.0,436.5 462.5,436.5 464.0,436.5 465.5,436.0 467.0,436.5 468.5,436.5 470.0,436.0 471.5,436.5 473.0,436.0 474.5,436.0 476.0,436.0 477.5,436.0 479.0,435.5 480.5,435.5 482.0,435.5 483.5,435.5 485.0,435.0 485.0,435.6" fill="none" stroke="#8f8f8f" stroke-width="1.4" stroke-linejoin="round"/>
<polygon points="485.0,448 485.0,435.5 486.2,435.5 487.4,435.5 488.6,435.5 489.8,435.5 491.0,435.5 492.2,435.0 493.4,434.5 494.6,434.5 495.8,435.0 497.0,435.5 498.2,435.5 499.4,435.5 500.6,435.0 501.8,435.0 503.0,435.0 504.2,435.0 505.4,435.0 506.6,434.5 507.8,434.0 509.0,434.0 510.2,434.5 511.4,434.5 512.6,434.5 513.8,435.0 515.0,434.5 516.2,433.5 517.4,433.0 518.6,432.5 519.8,432.5 521.0,432.5 522.2,432.0 523.4,432.5 524.6,432.0 525.8,432.0 527.0,431.5 528.2,431.5 529.4,431.0 530.6,430.5 531.8,430.0 533.0,430.0 534.2,430.0 535.4,430.5 536.6,430.0 537.8,430.0 539.0,430.0 540.2,428.5 541.4,426.0 542.6,424.0 543.8,423.5 545.0,424.0 546.2,425.0 547.4,425.5 548.6,425.5 549.8,425.0 551.0,426.0 552.2,426.5 553.4,427.0 554.6,427.5 555.8,428.0 557.0,428.0 558.2,428.5 559.4,428.0 560.6,426.5 561.8,425.5 563.0,426.5 564.2,426.5 565.4,427.0 566.6,427.5 567.8,428.0 569.0,428.0 570.2,426.5 571.4,426.0 572.6,426.0 573.8,426.0 575.0,426.0 576.2,426.0 577.4,426.0 578.6,426.0 579.0,426.0 579.0,448" fill="#b9c6fa"/>
<polyline points="485.0,435.5 486.2,435.5 487.4,435.5 488.6,435.5 489.8,435.5 491.0,435.5 492.2,435.0 493.4,434.5 494.6,434.5 495.8,435.0 497.0,435.5 498.2,435.5 499.4,435.5 500.6,435.0 501.8,435.0 503.0,435.0 504.2,435.0 505.4,435.0 506.6,434.5 507.8,434.0 509.0,434.0 510.2,434.5 511.4,434.5 512.6,434.5 513.8,435.0 515.0,434.5 516.2,433.5 517.4,433.0 518.6,432.5 519.8,432.5 521.0,432.5 522.2,432.0 523.4,432.5 524.6,432.0 525.8,432.0 527.0,431.5 528.2,431.5 529.4,431.0 530.6,430.5 531.8,430.0 533.0,430.0 534.2,430.0 535.4,430.5 536.6,430.0 537.8,430.0 539.0,430.0 540.2,428.5 541.4,426.0 542.6,424.0 543.8,423.5 545.0,424.0 546.2,425.0 547.4,425.5 548.6,425.5 549.8,425.0 551.0,426.0 552.2,426.5 553.4,427.0 554.6,427.5 555.8,428.0 557.0,428.0 558.2,428.5 559.4,428.0 560.6,426.5 561.8,425.5 563.0,426.5 564.2,426.5 565.4,427.0 566.6,427.5 567.8,428.0 569.0,428.0 570.2,426.5 571.4,426.0 572.6,426.0 573.8,426.0 575.0,426.0 576.2,426.0 577.4,426.0 578.6,426.0 579.0,426.0" fill="none" stroke="#6464c8" stroke-width="1.3" stroke-linejoin="round"/>
<g shape-rendering="crispEdges">
<rect x="11" y="449" width="568" height="10" fill="url(#gTrack)"/>
<rect x="492" y="449" width="80" height="10" fill="url(#gThumb)"/>
<rect x="491" y="449" width="1" height="10" fill="#000"/>
<rect x="572" y="449" width="1" height="10" fill="#000"/>
<rect x="10" y="10" width="631" height="1" fill="#000"/>
<rect x="10" y="459" width="631" height="1" fill="#000"/>
<rect x="10" y="10" width="1" height="450" fill="#000"/>
<rect x="640" y="10" width="1" height="450" fill="#000"/>
<rect x="10" y="29" width="631" height="1" fill="#000"/>
<rect x="10" y="312" width="631" height="1" fill="#000"/>
<rect x="10" y="325" width="631" height="1" fill="#000"/>
<rect x="10" y="397" width="631" height="1" fill="#000"/>
<rect x="10" y="410" width="631" height="1" fill="#000"/>
<rect x="10" y="448" width="570" height="1" fill="#000"/>
<rect x="579" y="29" width="1" height="284" fill="#000"/>
<rect x="579" y="325" width="1" height="73" fill="#000"/>
<rect x="579" y="410" width="1" height="50" fill="#000"/>
<rect x="484" y="411" width="1" height="38" fill="#1ea0dc"/>
<rect x="579" y="411" width="1" height="38" fill="#1ea0dc"/>
</g>
<rect x="478.5" y="415.5" width="13" height="29" fill="url(#gHandle)" stroke="#000" stroke-width="1"/>
<path d="M487 425.5 L487 434.5 L482 430 Z" fill="#000"/>
<rect x="572.5" y="415.5" width="13" height="29" fill="url(#gHandle)" stroke="#000" stroke-width="1"/>
<path d="M577 425.5 L577 434.5 L582 430 Z" fill="#000"/>
<rect x="10.5" y="269.5" width="108" height="43" fill="#eeeeee" fill-opacity="0.8" stroke="#a0a0a0" stroke-width="1"/>
<rect x="10.5" y="325.5" width="107.5" height="14" fill="#eeeeee" fill-opacity="0.8" stroke="#a0a0a0" stroke-width="1"/>
<g fill="#222">
<text x="12.2" y="24.5" font-size="12" class="j" >日付</text>
<text x="41.3" y="23.5" font-size="13.33" textLength="82" lengthAdjust="spacing">2026/01/08</text>
<text x="130" y="23.5" font-size="13.33" textLength="38.5" lengthAdjust="spacing">10:18</text>
<text x="172.5" y="24.5" font-size="12" class="j" >始値</text>
<text x="201.0" y="23.5" font-size="13.33" fill="#111" font-weight="bold" textLength="41.5" lengthAdjust="spacing">7,200</text>
<text x="264.5" y="24.5" font-size="12" class="j" >高値</text>
<text x="293.0" y="23.5" font-size="13.33" fill="#ff0000" font-weight="bold" textLength="41.5" lengthAdjust="spacing">7,294</text>
<text x="356.5" y="24.5" font-size="12" class="j" >安値</text>
<text x="385.0" y="23.5" font-size="13.33" fill="#0a6e0a" font-weight="bold" textLength="41.5" lengthAdjust="spacing">7,107</text>
<text x="448.5" y="24.5" font-size="12" class="j" >終値</text>
<text x="477.0" y="23.5" font-size="13.33" fill="#111" font-weight="bold" textLength="41.5" lengthAdjust="spacing">7,208</text>
<text x="581.3" y="53.3" font-size="12" >8000</text>
<text x="581.3" y="101.3" font-size="12" >7000</text>
<text x="581.3" y="148.3" font-size="12" >6000</text>
<text x="581.3" y="196.3" font-size="12" >5000</text>
<text x="581.3" y="243.3" font-size="12" >4000</text>
<text x="581.3" y="291.3" font-size="12" >3000</text>
<text x="581.3" y="357.3" font-size="12" >4000</text>
<text x="581.3" y="377.3" font-size="12" >2000</text>
<text x="637.5" y="395" font-size="10.5" text-anchor="end" class="j" >(万株)</text>
<text x="84.8" y="321" font-size="10" >8</text>
<text x="84.8" y="406" font-size="10" >8</text>
<text x="174.8" y="321" font-size="10" >9</text>
<text x="174.8" y="406" font-size="10" >9</text>
<text x="264.8" y="321" font-size="10" >10</text>
<text x="264.8" y="406" font-size="10" >10</text>
<text x="364.8" y="321" font-size="10" >11</text>
<text x="364.8" y="406" font-size="10" >11</text>
<text x="445.8" y="321" font-size="10" >12</text>
<text x="445.8" y="406" font-size="10" >12</text>
<text x="544.8" y="321" font-size="10" >26/1</text>
<text x="544.8" y="406" font-size="10" >26/1</text>
<text x="153.5" y="233.6" font-size="12" text-anchor="middle" >8/25</text>
<text x="153.5" y="245.7" font-size="12" text-anchor="middle" >3790</text>
<text x="175.5" y="277.1" font-size="12" text-anchor="middle" >3412</text>
<text x="174.7" y="288.4" font-size="12" text-anchor="middle" >9/1</text>
<text x="364.6" y="47" font-size="12" text-anchor="middle" >11/4</text>
<text x="364.6" y="59" font-size="12" text-anchor="middle" >7722</text>
<text x="431.5" y="189.5" font-size="12" text-anchor="middle" >5250</text>
<text x="431.5" y="201.5" font-size="12" text-anchor="middle" >11/26</text>
<text x="473" y="97.5" font-size="12" text-anchor="middle" >12/9</text>
<text x="473" y="109.5" font-size="12" text-anchor="middle" >6665</text>
<text x="504" y="176.5" font-size="12" text-anchor="middle" >5515</text>
<text x="504" y="188.5" font-size="12" text-anchor="middle" >12/18</text>
<text x="554.5" y="64" font-size="12" text-anchor="middle" >1/7</text>
<text x="554.5" y="76" font-size="12" text-anchor="middle" >7379</text>
<text x="204.8" y="443.7" font-size="10" text-anchor="middle" >24</text>
<text x="394" y="443.7" font-size="10" text-anchor="middle" >25</text>
<text x="11" y="280.0" font-size="12" fill="#2e7d4f" >MA(5)</text>
<text x="118.2" y="280.0" font-size="12" text-anchor="end" fill="#2e7d4f" >7,066.20</text>
<text x="11" y="294.3" font-size="12" fill="#ff3030" >MA(25)</text>
<text x="118.2" y="294.3" font-size="12" text-anchor="end" fill="#ff3030" >6,343.98</text>
<text x="11" y="308.6" font-size="12" fill="#3030ff" >MA(75)</text>
<text x="118.2" y="308.6" font-size="12" text-anchor="end" fill="#3030ff" >5,782.41</text>
<text x="11.2" y="336.3" font-size="11.5" fill="#3030c0" class="j" >出来高</text>
<text x="57" y="336" font-size="12" fill="#3030c0" textLength="48.8" lengthAdjust="spacing">858,900</text>
<text x="106" y="336.3" font-size="11.5" fill="#3030c0" class="j" >株</text>
</g>
</svg></body></html>
